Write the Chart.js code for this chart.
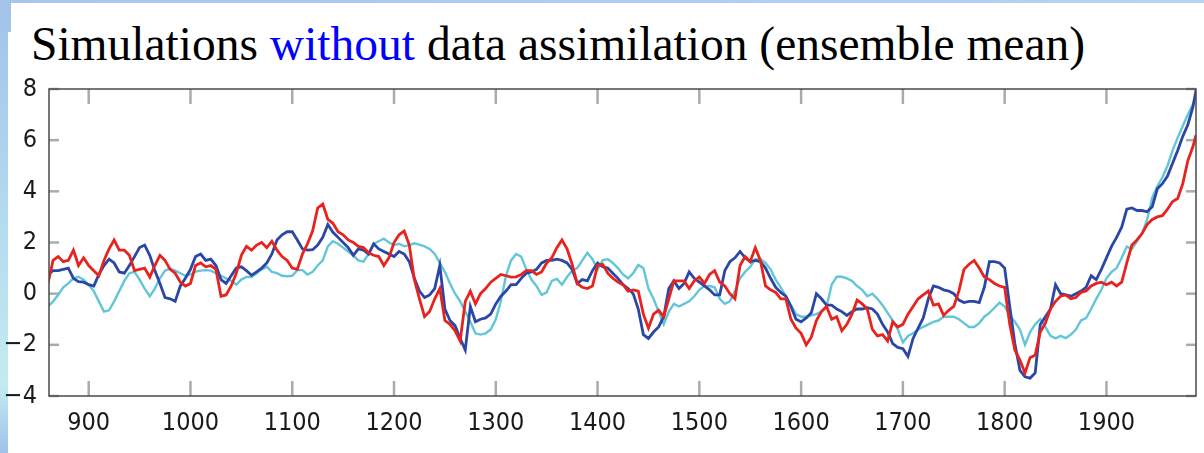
<!DOCTYPE html>
<html>
<head>
<meta charset="utf-8">
<script src="https://cdn.jsdelivr.net/npm/chart.js@4.4.0/dist/chart.umd.min.js"></script>
<style>
  html, body { margin: 0; padding: 0; background: #fff; }
  body { width: 1204px; height: 453px; position: relative; overflow: hidden; }
  #topband { position: absolute; left: 0; top: 0; width: 1204px; height: 3px; background: linear-gradient(to right, #a6c6ee, #b6d3f2); }
  #leftband { position: absolute; left: 0; top: 0; width: 8px; height: 453px; background: linear-gradient(to bottom, #a2c2ec, #b4dcef 50%, #c2ebf0 85%, #9fc2ea); }
  #leftcap { position: absolute; left: 0; top: 0; width: 11px; height: 32px; background: #a4c4ec; }
  #title { position: absolute; left: 31px; top: 20px; font-family: "Liberation Serif", "Times New Roman", serif; font-size: 47.5px; line-height: 48px; color: #000; white-space: nowrap; }
  #title .hl { color: #0000ff; }
  #chart { position: absolute; left: 0; top: 0; }
</style>
</head>
<body>
<div id="topband"></div>
<div id="leftband"></div>
<div id="leftcap"></div>
<div id="title">Simulations <span class="hl">without</span> data assimilation (ensemble mean)</div>
<canvas id="chart" width="1204" height="453"></canvas>
<script>
// years every 5 yr from 860, last point 1988
var years = [];
for (var yr = 860; yr <= 1985; yr += 5) years.push(yr);
years.push(1988);

var redSeries = [
  0.4, 1.3, 1.45, 1.25, 1.3, 1.7, 1.1, 1.4, 1.1, 0.9,
  0.7, 1.3, 1.75, 2.1, 1.7, 1.7, 1.5, 0.9, 0.95, 1.0,
  0.65, 1.1, 1.5, 1.3, 0.95, 0.8, 0.45, 0.3, 0.4, 1.1,
  1.2, 1.05, 1.1, 0.95, -0.1, -0.05, 0.3, 0.8, 1.5, 1.85,
  1.7, 1.9, 2.0, 1.8, 2.05, 1.7, 1.45, 1.3, 1.0, 0.95,
  1.55, 1.95, 2.45, 3.35, 3.5, 2.9, 2.75, 2.42, 2.3, 2.1,
  2.0, 1.85, 1.8, 1.6, 1.5, 1.45, 1.1, 1.4, 2.0, 2.3,
  2.45, 1.9, 0.55, -0.2, -0.9, -0.7, -0.2, 0.2, -1.05, -1.2,
  -1.45, -1.85, -0.3, 0.1, -0.4, 0.0, 0.2, 0.45, 0.6, 0.75,
  0.7, 0.65, 0.66, 0.75, 0.9, 0.9, 0.75, 0.85, 1.2, 1.4,
  1.8, 2.1, 1.75, 1.15, 0.4, 0.25, 0.2, 0.3, 1.1, 1.15,
  0.8, 0.6, 0.45, 0.35, 0.1, 0.15, 0.1, -0.8, -1.35, -0.8,
  -0.65, -0.9, -0.2, 0.5, 0.5, 0.5, 0.2, 0.5, 0.65, 0.4,
  0.75, 0.9, 0.45, 0.3, 0.0, -0.2, 1.1, 1.45, 1.25, 1.8,
  1.3, 0.3, 0.15, 0.05, -0.2, -0.2, -1.0, -1.35, -1.55, -2.0,
  -1.7, -1.05, -0.7, -0.5, -1.0, -0.9, -1.45, -1.2, -0.8, -0.25,
  -0.4, -0.6, -1.4, -1.65, -1.6, -1.85, -1.1, -1.3, -1.2, -0.8,
  -0.5, -0.2, -0.05, 0.1, -0.45, -0.4, -0.85, -0.65, -0.5, 0.1,
  0.95, 1.15, 1.3, 1.0, 0.65, 0.55, 0.4, 0.3, 0.25, -1.2,
  -2.2, -2.6, -3.1, -2.5, -2.4, -1.5, -1.15, -0.6, -0.3, -0.1,
  -0.05, -0.2, -0.15, 0.05, 0.1, 0.3, 0.4, 0.45, 0.35, 0.45,
  0.3, 0.45, 1.2, 1.9, 2.1, 2.35, 2.7, 2.9, 3.0, 3.05,
  3.3, 3.6, 3.72, 4.3, 5.2, 5.75, 6.2
];

var blueSeries = [
  0.75, 0.9, 0.9, 0.95, 1.0, 0.6, 0.47, 0.45, 0.35, 0.3,
  0.75, 1.1, 1.35, 1.2, 0.85, 0.8, 1.1, 1.45, 1.8, 1.9,
  1.5, 0.9, 0.4, -0.15, -0.2, -0.3, 0.3, 0.6, 0.95, 1.45,
  1.55, 1.3, 1.35, 1.1, 0.55, 0.4, 0.7, 1.0, 1.05, 0.9,
  0.72, 0.85, 1.0, 1.2, 1.55, 2.1, 2.3, 2.42, 2.42, 2.1,
  1.75, 1.7, 1.72, 1.9, 2.2, 2.7, 2.4, 2.2, 2.0, 1.8,
  1.5, 1.75, 1.7, 1.55, 1.95, 1.75, 1.65, 1.55, 1.45, 1.65,
  1.55, 1.25, 0.6, 0.1, -0.15, -0.05, 0.2, 1.1, -0.6, -1.05,
  -1.25, -1.75, -2.2, -0.5, -1.1, -1.0, -0.95, -0.8, -0.4, -0.1,
  0.1, 0.35, 0.35, 0.6, 0.8, 0.85, 0.95, 1.2, 1.3, 1.3,
  1.35, 1.3, 1.2, 0.95, 0.4, 0.55, 0.5, 0.9, 1.2, 1.05,
  1.0, 0.8, 0.6, 0.35, 0.2, 0.0, -0.6, -1.6, -1.75, -1.5,
  -1.3, -0.9, 0.2, 0.5, 0.2, 0.4, 0.85, 0.6, 0.45, 0.3,
  0.15, -0.05, -0.05, 0.9, 1.25, 1.4, 1.65, 1.4, 1.25, 1.3,
  1.25, 1.0, 0.6, 0.25, 0.05, -0.1, -0.5, -1.0, -1.1, -0.95,
  -0.75, 0.0, -0.2, -0.45, -0.45, -0.6, -0.7, -0.85, -0.7, -0.6,
  -0.6, -0.55, -0.6, -0.8, -1.2, -1.5, -1.95, -2.1, -2.15, -2.45,
  -1.75, -1.35, -0.95, -0.2, 0.3, 0.25, 0.15, 0.1, 0.0, -0.25,
  -0.35, -0.3, -0.3, -0.35, 0.25, 1.25, 1.25, 1.2, 1.0, -0.5,
  -1.95, -3.0, -3.25, -3.3, -3.1, -1.2, -0.9, -0.6, 0.35, 0.0,
  -0.05, -0.1, 0.0, 0.1, 0.25, 0.7, 0.55, 0.95, 1.4, 1.85,
  2.2, 2.6, 3.3, 3.35, 3.25, 3.25, 3.2, 3.4, 4.1, 4.3,
  4.6, 5.1, 5.6, 6.15, 6.6, 7.3, 7.95
];

var cyanSeries = [
  -0.5, -0.3, -0.05, 0.25, 0.4, 0.6, 0.66, 0.55, 0.35, 0.1,
  -0.3, -0.7, -0.65, -0.3, 0.1, 0.5, 0.8, 0.85, 0.55, 0.2,
  -0.1, 0.2, 0.6, 0.9, 0.98, 0.9, 0.8, 0.7, 0.75, 0.86,
  0.9, 0.92, 0.9, 0.8, 0.7, 0.6, 0.5, 0.35, 0.55, 0.65,
  0.65, 0.8, 0.95, 1.05, 0.85, 0.8, 0.7, 0.68, 0.7, 0.92,
  0.92, 0.75, 0.85, 1.1, 1.3, 1.85, 2.05, 1.95, 1.8, 1.65,
  1.5, 1.3, 1.25, 1.55, 1.95, 2.05, 2.15, 2.0, 1.9, 1.95,
  1.85, 1.9, 1.97, 1.92, 1.85, 1.75, 1.55, 1.2, 0.85, 0.4,
  0.0, -0.3, -0.7, -1.1, -1.55, -1.6, -1.55, -1.4, -1.0, -0.3,
  0.7, 1.3, 1.55, 1.45, 0.95, 0.55, 0.3, -0.05, 0.05, 0.5,
  0.58, 0.35, 0.65, 0.9, 1.0, 1.3, 1.6, 1.35, 0.95, 1.3,
  1.35, 1.2, 1.0, 0.75, 0.6, 0.8, 1.12, 1.0, 0.2, -0.2,
  -0.7, -1.2, -0.7, -0.4, -0.5, -0.4, -0.3, -0.1, 0.15, 0.3,
  0.3, 0.25, -0.2, -0.4, -0.3, 0.1, 0.6, 0.85, 1.05, 1.35,
  1.35, 1.2, 0.95, 0.55, 0.25, -0.1, -0.45, -0.8, -0.9, -0.9,
  -0.85, -0.8, -0.7, -0.5, 0.35, 0.66, 0.66, 0.6, 0.5, 0.3,
  0.15, -0.1, 0.0, -0.2, -0.45, -0.75, -1.05, -1.4, -1.9, -1.65,
  -1.55, -1.4, -1.3, -1.2, -1.1, -1.05, -0.9, -0.9, -0.9, -1.0,
  -1.15, -1.3, -1.3, -1.15, -0.9, -0.75, -0.55, -0.35, -0.5, -0.85,
  -1.1, -1.4, -2.0, -1.5, -1.2, -1.0, -1.3, -1.65, -1.75, -1.65,
  -1.74, -1.6, -1.4, -1.05, -0.95, -0.6, -0.2, 0.15, 0.6, 0.85,
  1.0, 1.4, 1.84, 1.75, 2.05, 2.35, 2.9, 3.75, 4.2, 4.55,
  5.0, 5.6, 6.1, 6.55, 7.0, 7.4, 7.8
];

var xTickValues = [900, 1000, 1100, 1200, 1300, 1400, 1500, 1600, 1700, 1800, 1900];
var xTickLabels = ['900', '1000', '1100', '1200', '1300', '1400', '1500', '1600', '1700', '1800', '1900'];
var yTickValues = [-4, -2, 0, 2, 4, 6, 8];
var yTickLabels = ['\u22124', '\u22122', '0', '2', '4', '6', '8'];

function pts(vals) {
  return years.map(function (yr, i) { return { x: yr, y: vals[i] }; });
}

function line(ctx, x1, y1, x2, y2) {
  ctx.beginPath();
  ctx.moveTo(x1, y1);
  ctx.lineTo(x2, y2);
  ctx.stroke();
}

// inward tick marks on all four sides + frame
var frameTicks = {
  id: 'frameTicks',
  beforeDatasetsDraw: function (chart) {
    var ctx = chart.ctx, a = chart.chartArea, sx = chart.scales.x, sy = chart.scales.y;
    ctx.save();
    ctx.strokeStyle = '#ababab';
    ctx.lineWidth = 2.5;
    xTickValues.forEach(function (v) {
      var px = sx.getPixelForValue(v);
      line(ctx, px, a.bottom, px, a.bottom - 15);
      line(ctx, px, a.top, px, a.top + 15);
    });
    yTickValues.forEach(function (v) {
      var py = sy.getPixelForValue(v);
      line(ctx, a.left, py, a.left + 10, py);
      line(ctx, a.right, py, a.right - 10, py);
    });
    ctx.restore();
  },
  afterDatasetsDraw: function (chart) {
    var ctx = chart.ctx, a = chart.chartArea;
    ctx.save();
    ctx.strokeStyle = '#4a4a4a';
    ctx.lineWidth = 1.5;
    ctx.strokeRect(a.left, a.top, a.right - a.left, a.bottom - a.top);
    ctx.restore();
  }
};

var tickFont = { family: '"Liberation Sans Narrow", "Arial Narrow", "DejaVu Sans Condensed", sans-serif', size: 25 };

var ctx = document.getElementById('chart').getContext('2d');
var chart = new Chart(ctx, {
  type: 'line',
  data: {
    datasets: [
      { label: 'red', data: pts(redSeries), borderColor: '#e8221c', borderWidth: 2.8 },
      { label: 'blue', data: pts(blueSeries), borderColor: '#2b47a6', borderWidth: 2.8 },
      { label: 'cyan', data: pts(cyanSeries), borderColor: '#62c6d8', borderWidth: 2.4 }
    ]
  },
  options: {
    responsive: false,
    animation: false,
    devicePixelRatio: 1,
    layout: { padding: { top: 89, right: 8, left: 0, bottom: 0 } },
    elements: { point: { radius: 0 }, line: { tension: 0 } },
    plugins: { legend: { display: false }, title: { display: false }, tooltip: { enabled: false } },
    scales: {
      x: {
        type: 'linear', min: 861, max: 1988,
        grid: { display: false, drawTicks: false },
        border: { display: false },
        afterFit: function (s) { s.height = 57; },
        afterBuildTicks: function (s) { s.ticks = xTickValues.map(function (v) { return { value: v }; }); },
        ticks: {
          padding: 12, color: '#1a1a1a', font: tickFont, maxRotation: 0, autoSkip: false,
          callback: function (v) { return xTickLabels[xTickValues.indexOf(v)]; }
        }
      },
      y: {
        type: 'linear', min: -4, max: 8,
        grid: { display: false, drawTicks: false },
        border: { display: false },
        afterFit: function (s) { s.width = 49; },
        afterBuildTicks: function (s) { s.ticks = yTickValues.map(function (v) { return { value: v }; }); },
        ticks: {
          padding: 12, color: '#1a1a1a', font: tickFont,
          callback: function (v) { return yTickLabels[yTickValues.indexOf(v)]; }
        }
      }
    }
  },
  plugins: [frameTicks]
});
</script>
</body>
</html>
